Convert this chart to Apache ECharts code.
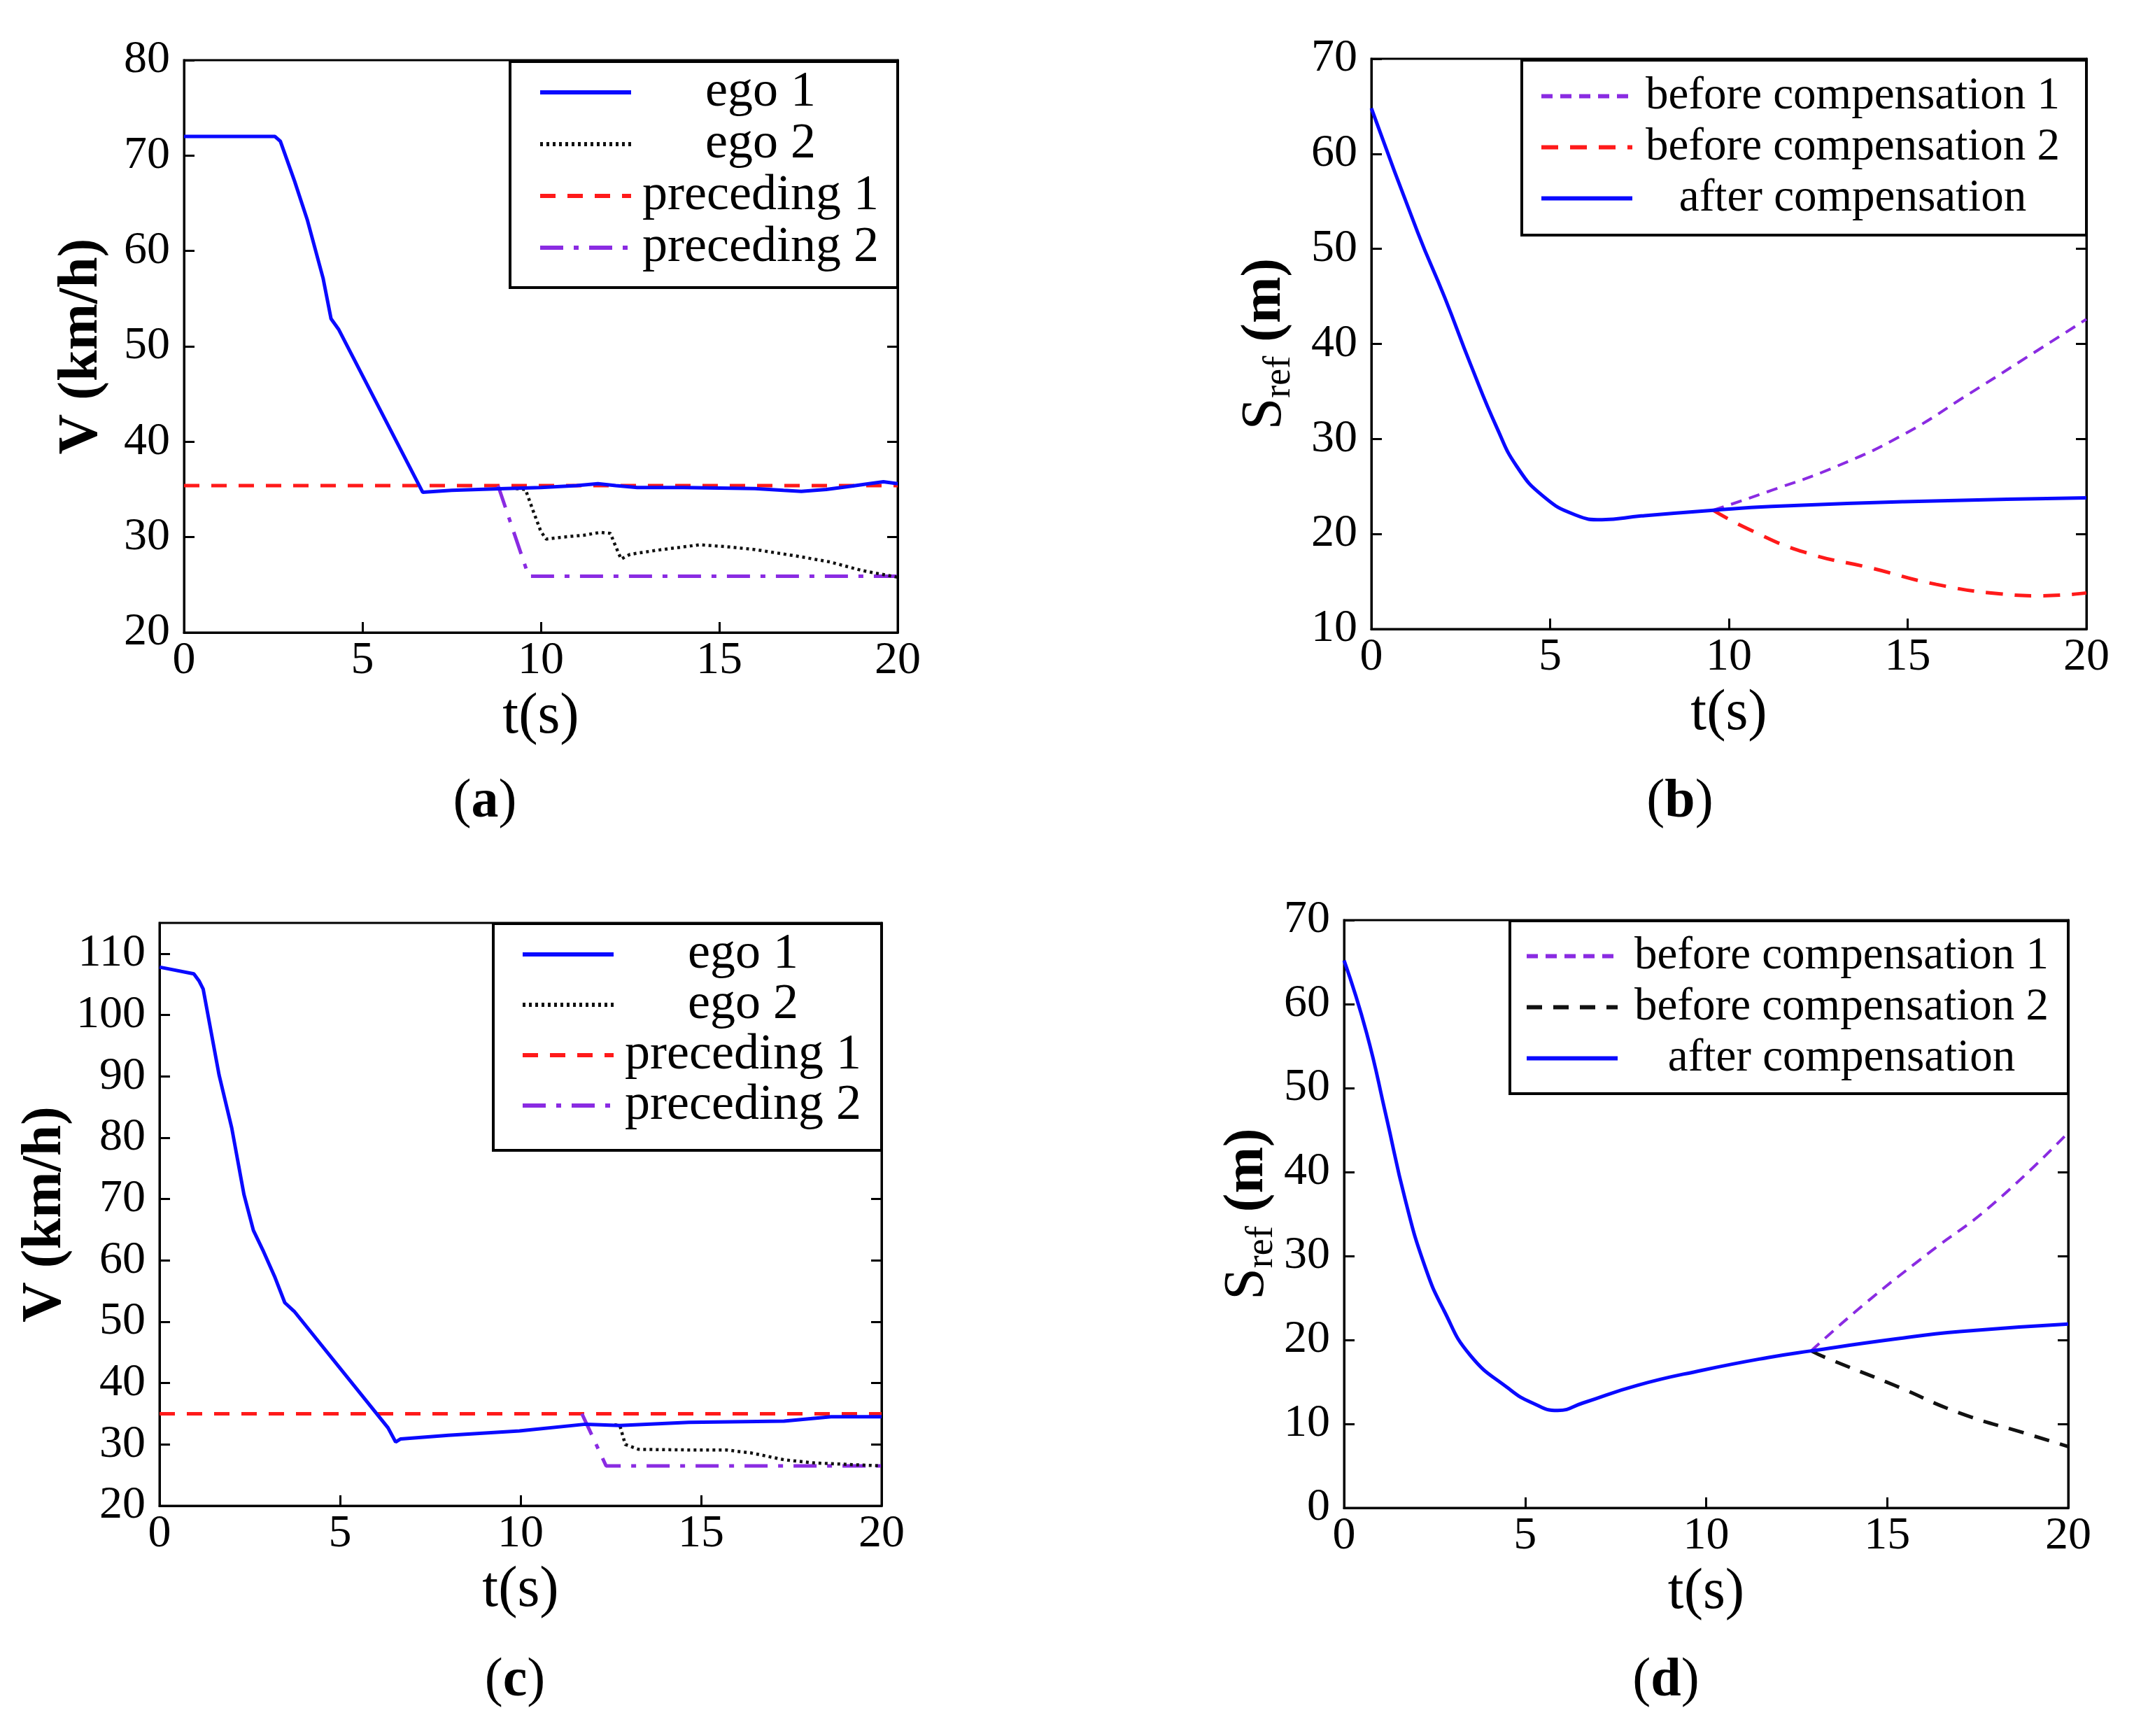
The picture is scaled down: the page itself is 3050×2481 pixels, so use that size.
<!DOCTYPE html>
<html>
<head>
<meta charset="utf-8">
<script src="https://cdn.jsdelivr.net/npm/echarts@6/dist/echarts.min.js"></script>
<style>
html, body { margin: 0; padding: 0; background: #fff; }
#main { width: 3050px; height: 2481px; }
</style>
</head>
<body>
<div id="main"></div>
<script>
// 数据: [t(s), value]
var tTicks = [0, 5, 10, 15, 20];

// (a) speed, case 1
var egoA1 = [[0,72],[2.55,72],[2.7,71.5],[3.1,67.3],[3.46,63.2],[3.9,57.1],[4.12,52.9],[4.33,51.8],[6.69,34.7],[7.5,34.9],[9,35.1],[10,35.2],[11,35.4],[11.6,35.6],[12.1,35.4],[12.7,35.2],[14,35.2],[16,35.1],[16.8,34.9],[17.3,34.8],[18,35.0],[18.6,35.3],[19.2,35.6],[19.6,35.8],[20,35.6]];
var egoA2 = [[9.3,35.1],[9.57,35.0],[9.78,32.8],[10.0,30.6],[10.15,29.8],[10.6,30.0],[11.2,30.2],[11.67,30.5],[11.95,30.4],[12.1,29.0],[12.25,27.7],[12.5,28.2],[13.2,28.6],[14.45,29.2],[15.2,29.0],[16,28.7],[17.2,28.0],[18.1,27.4],[19.0,26.5],[20,25.8]];
var precA1 = [[0,35.4],[20,35.4]];
var precA2 = [[8.8,35.4],[9.66,25.9],[20,25.9]];

// (b) reference distance, case 1
var afterB = [[0,64.8],[1.3,51.7],[2.05,44.9],[2.78,37.8],[3.52,31.1],[4.07,27.1],[4.8,24.0],[5.71,22.0],[6.45,21.5],[7.55,21.9],[9.56,22.5],[11.2,22.9],[14.9,23.4],[20,23.8]];
var beforeB1 = [[9.56,22.5],[11.2,24.6],[13.0,27.1],[14.9,30.5],[16.7,34.7],[18.5,39.0],[20,42.6]];
var beforeB2 = [[9.56,22.5],[10.5,20.6],[12.1,18.1],[14.0,16.4],[15.8,14.7],[17.6,13.7],[18.7,13.5],[20,13.8]];

// (c) speed, case 2
var egoC1 = [[0,107.8],[0.95,106.7],[1.1,105.5],[1.21,104.2],[1.65,90.2],[2.0,81.6],[2.34,70.7],[2.6,64.9],[2.86,61.7],[3.2,57.2],[3.47,53.1],[3.73,51.7],[6.33,32.7],[6.54,30.4],[6.68,30.9],[8,31.5],[9.97,32.2],[11.8,33.3],[12.75,33.1],[14.66,33.6],[17.3,33.8],[18.6,34.5],[20,34.5]];
var egoC2 = [[12.6,33.2],[12.75,33.1],[12.9,30.0],[13.27,29.2],[14.66,29.1],[15.7,29.1],[16.4,28.6],[17.3,27.5],[18.1,27.0],[20,26.5]];
var precC1 = [[0,35],[20,35]];
var precC2 = [[11.7,35],[12.37,26.5],[20,26.5]];

// (d) reference distance, case 2
var afterD = [[0,65.2],[0.62,56.6],[1.16,46.7],[1.69,36.7],[2.23,28.8],[2.76,23.5],[3.48,18.2],[4.55,14.2],[5.2,12.5],[5.9,11.6],[6.6,12.5],[8.1,14.6],[9.9,16.4],[11.7,17.9],[12.9,18.7],[15.2,20.1],[17.0,21.0],[20,21.9]];
var beforeD1 = [[12.9,18.7],[14.35,24.2],[16.1,30.2],[17.9,36.1],[20,44.7]];
var beforeD2 = [[12.9,18.7],[13.3,17.9],[15.2,14.6],[17.0,11.3],[18.8,8.9],[20,7.3]];

// y轴范围
var yRangeA = [20, 80];
var yRangeB = [10, 70];
var yRangeC = [20, 115];
var yRangeD = [0, 70];

// 图例文字
var legendNames = {
	a1: 'ego 1', a2: 'ego 2', a3: 'preceding 1', a4: 'preceding 2',
	b1: 'before compensation 1', b2: 'before compensation 2', b3: 'after compensation',
	c1: 'ego 1', c2: 'ego 2', c3: 'preceding 1', c4: 'preceding 2',
	d1: 'before compensation 1', d2: 'before compensation 2', d3: 'after compensation'
};

var FONT = "'Liberation Serif', 'Times New Roman', serif";
var BLUE = '#0a0aff', RED = '#ff1a1a', PURPLE = '#8a2be2', BLACK = '#111';

var grids = [
	{left: 263, top: 86, width: 1020, height: 818},
	{left: 1960, top: 84, width: 1022, height: 815},
	{left: 228, top: 1319, width: 1032, height: 833},
	{left: 1921, top: 1315, width: 1035, height: 840}
];

var chart = echarts.init(document.getElementById('main'));

// 刻度文字用 rich，保证衬线字体
function tickFmt(v){ return '{v|' + v + '}'; }
var tickRich = {v: {fontSize: 66, fontFamily: FONT, color: '#000'}};

function xAxis(gi){
	return {
		type: 'value', gridIndex: gi, min: 0, max: 20, interval: 5,
		axisLine: {show: true, lineStyle: {color: '#000', width: 3}},
		axisTick: {show: true, inside: true, length: 15, lineStyle: {color: '#000', width: 3}},
		axisLabel: {show: true, margin: 8, fontSize: 66, fontFamily: FONT, color: '#000', formatter: tickFmt, rich: tickRich},
		splitLine: {show: false},
		name: '{t|t(s)}', nameLocation: 'middle', nameGap: 80,
		nameTextStyle: {fontSize: 82, fontFamily: FONT, color: '#000', rich: {t: {fontSize: 82, fontFamily: FONT, color: '#000'}}}
	};
}
function yAxis(gi, r, name, gap, rich){
	return {
		type: 'value', gridIndex: gi, min: r[0], max: r[1], interval: 10,
		axisLine: {show: true, lineStyle: {color: '#000', width: 3}},
		axisTick: {show: true, inside: true, length: 15, lineStyle: {color: '#000', width: 3}},
		axisLabel: {show: true, margin: 20, fontSize: 66, fontFamily: FONT, color: '#000',
			formatter: tickFmt, rich: tickRich, showMaxLabel: r[1] % 10 === 0},
		splitLine: {show: false},
		name: name, nameLocation: 'middle', nameGap: gap,
		nameTextStyle: {fontSize: 78, fontFamily: FONT, color: '#000', rich: rich}
	};
}
function yRight(gi, r){
	return {
		type: 'value', gridIndex: gi, position: 'right', min: r[0], max: r[1], interval: 10,
		axisLine: {show: true, lineStyle: {color: '#000', width: 3}},
		axisTick: {show: true, inside: true, length: 15, lineStyle: {color: '#000', width: 3}},
		axisLabel: {show: false}, splitLine: {show: false}
	};
}

var vRich = {v: {fontSize: 80, fontFamily: FONT, fontWeight: 'bold', color: '#000'}};
var vName = '{v|V (km/h)}';
// S_ref 下标
var sRich = {
	s: {fontSize: 82, fontFamily: FONT, color: '#000', lineHeight: 96},
	sub: {fontSize: 54, fontFamily: FONT, color: '#000', verticalAlign: 'bottom', lineHeight: 62},
	m: {fontSize: 80, fontFamily: FONT, fontWeight: 'bold', color: '#000', lineHeight: 96}
};
var sName = '{s|S}{sub|ref}{m| (m)}';

function line(name, data, gi, color, width, type, smooth, z){
	return {
		name: name, type: 'line', data: data,
		xAxisIndex: gi, yAxisIndex: gi * 2,
		showSymbol: false, symbol: 'none', smooth: smooth || false,
		lineStyle: {color: color, width: width, type: type},
		itemStyle: {color: color},
		z: z || 2, animation: false
	};
}

function legend(names, left, top, w, fs, gap){
	return {
		orient: 'vertical', left: left, top: top,
		data: names.map(function(n){ return {name: n}; }),
		itemWidth: 130, itemHeight: 24, itemGap: gap, padding: 0,
		selectedMode: false, z: 20,
		itemStyle: {opacity: 0},
		lineStyle: {width: 6},
		formatter: function(n){ return '{t|' + legendNames[n] + '}'; },
		textStyle: {rich: {t: {width: w, align: 'center', fontSize: fs, fontFamily: FONT, color: '#000', lineHeight: 82}}}
	};
}

function box(l, t, r, b){
	return {type: 'rect', z: 15, shape: {x: l, y: t, width: r - l, height: b - t},
		style: {fill: '#fff', stroke: '#000', lineWidth: 4}};
}
function panelLabel(ch, cx, cy){
	return {type: 'text', z: 15, x: cx, y: cy,
		style: {text: '{n|(}{b|' + ch + '}{n|)}', align: 'center', verticalAlign: 'middle',
			rich: {n: {fontSize: 78, fontFamily: FONT, fill: '#000'}, b: {fontSize: 78, fontFamily: FONT, fontWeight: 'bold', fill: '#000'}}}};
}

var option = {
	backgroundColor: '#fff',
	animation: false,
	textStyle: {fontFamily: FONT, color: '#000'},
	grid: grids.map(function(g){
		return {left: g.left, top: g.top, width: g.width, height: g.height, show: true,
			borderColor: '#000', borderWidth: 3, backgroundColor: 'transparent', containLabel: false};
	}),
	xAxis: [xAxis(0), xAxis(1), xAxis(2), xAxis(3)],
	yAxis: [
		yAxis(0, yRangeA, vName, 106, vRich), yRight(0, yRangeA),
		yAxis(1, yRangeB, sName, 104, sRich), yRight(1, yRangeB),
		yAxis(2, yRangeC, vName, 102, vRich), yRight(2, yRangeC),
		yAxis(3, yRangeD, sName, 84, sRich), yRight(3, yRangeD)
	],
	legend: [
		legend(['a1','a2','a3','a4'], 769, 96, 360, 72, 2),
		legend(['b1','b2','b3'], 2200, 105, 620, 65, 8),
		legend(['c1','c2','c3','c4'], 744, 1328, 360, 72, 0),
		legend(['d1','d2','d3'], 2179, 1334, 630, 65, 8)
	],
	graphic: [
		box(729, 88, 1283, 411),
		box(2175, 86, 2982, 336),
		box(705, 1320, 1260, 1644),
		box(2158, 1316, 2956, 1563),
		panelLabel('a', 693, 1147),
		panelLabel('b', 2401, 1147),
		panelLabel('c', 736, 2403),
		panelLabel('d', 2381, 2403)
	],
	series: [
		line('a3', precA1, 0, RED, 5, [22, 17], false, 2),
		line('a4', precA2, 0, PURPLE, 5, [33, 15, 7, 15], false, 3),
		line('a2', egoA2, 0, BLACK, 4.5, [4, 5], false, 4),
		line('a1', egoA1, 0, BLUE, 5, 'solid', false, 5),

		line('b1', beforeB1, 1, PURPLE, 4, [16, 11], true, 3),
		line('b2', beforeB2, 1, RED, 5, [24, 17], true, 3),
		line('b3', afterB, 1, BLUE, 5, 'solid', true, 5),

		line('c3', precC1, 2, RED, 5, [22, 17], false, 2),
		line('c4', precC2, 2, PURPLE, 5, [33, 15, 7, 15], false, 3),
		line('c2', egoC2, 2, BLACK, 4.5, [4, 5], false, 4),
		line('c1', egoC1, 2, BLUE, 5, 'solid', false, 5),

		line('d1', beforeD1, 3, PURPLE, 4, [16, 11], true, 3),
		line('d2', beforeD2, 3, BLACK, 5, [22, 16], true, 3),
		line('d3', afterD, 3, BLUE, 5, 'solid', true, 5)
	]
};
chart.setOption(option);
</script>
</body>
</html>
